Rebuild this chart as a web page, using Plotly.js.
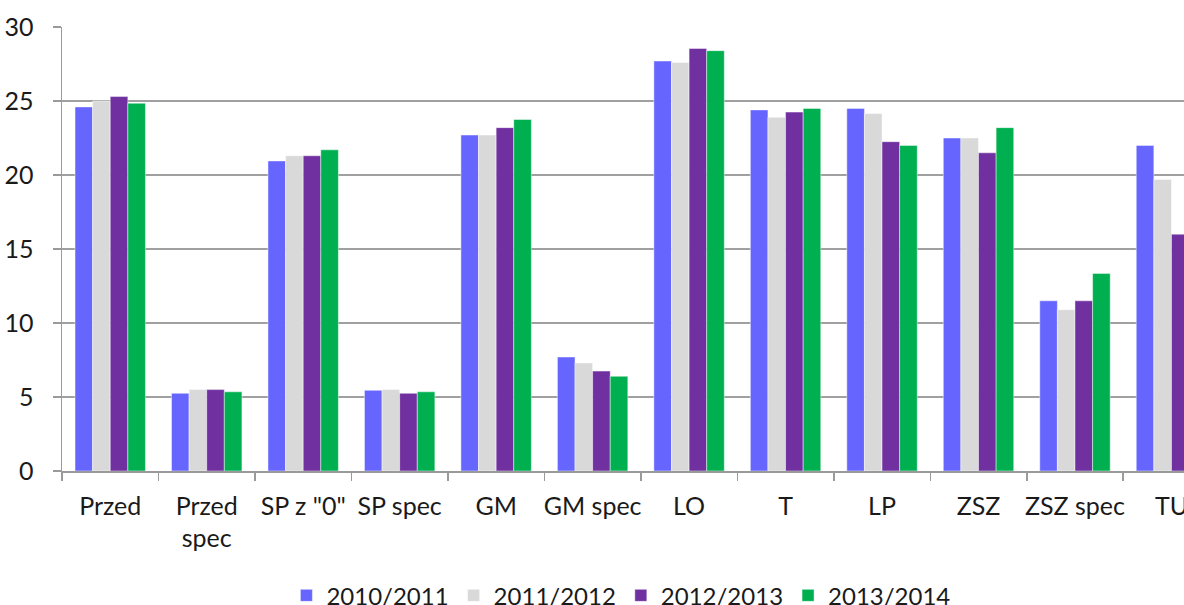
<!DOCTYPE html>
<html>
<head>
<meta charset="utf-8">
<script src="https://cdn.plot.ly/plotly-3.0.1.min.js"></script>
<style>html,body{margin:0;padding:0;background:#fff;}#chart{width:1184px;height:605px;}</style>
</head>
<body>
<div id="chart"></div>
<script>
const categories = ["Przed", "Przed<br>spec", "SP z \"0\"", "SP spec", "GM", "GM spec", "LO", "T", "LP", "ZSZ", "ZSZ spec", "TU"];
const seriesNames = ["2010/2011", "2011/2012", "2012/2013", "2013/2014"];
const y2010_2011 = [24.6, 5.25, 20.95, 5.45, 22.7, 7.7, 27.7, 24.4, 24.5, 22.5, 11.5, 22.0];
const y2011_2012 = [25.0, 5.5, 21.3, 5.5, 22.7, 7.3, 27.6, 23.9, 24.15, 22.5, 10.9, 19.7];
const y2012_2013 = [25.3, 5.5, 21.3, 5.25, 23.2, 6.75, 28.55, 24.25, 22.25, 21.5, 11.5, 16.0];
const y2013_2014 = [24.85, 5.35, 21.7, 5.35, 23.75, 6.4, 28.4, 24.5, 22.0, 23.2, 13.35, 15.0];
const yTicks = [0, 5, 10, 15, 20, 25, 30];
const colors = ["#6666FF", "#D9D9D9", "#7030A0", "#00B050"];

const allSeries = [y2010_2011, y2011_2012, y2012_2013, y2013_2014];
const traces = allSeries.map((vals, i) => ({
  type: "bar",
  name: seriesNames[i],
  x: categories,
  y: vals,
  marker: {color: colors[i], line: {color: "rgba(255,255,255,0.45)", width: 1}},
  hoverinfo: "skip"
}));

const font = {family: "Lato, 'Open Sans', sans-serif", size: 25, color: "#1a1a1a"};
const legendFont = {family: "Lato, 'Open Sans', sans-serif", size: 24, color: "#1a1a1a"};

const layout = {
  width: 1184,
  height: 605,
  margin: {l: 62, r: 0, t: 27, b: 134, autoexpand: false},
  paper_bgcolor: "#ffffff",
  plot_bgcolor: "#ffffff",
  font: font,
  barmode: "group",
  bargap: 0.27,
  bargroupgap: 0,
  showlegend: true,
  legend: {
    orientation: "h",
    x: 0.2,
    xanchor: "left",
    y: -0.281,
    yanchor: "middle",
    font: legendFont,
    traceorder: "normal"
  },
  xaxis: {
    type: "category",
    range: [-0.5, 11.13],
    automargin: false,
    tickangle: 0,
    showline: true,
    linecolor: "#9a9a9a",
    linewidth: 1.5,
    ticks: "outside",
    tickson: "boundaries",
    ticklen: 8,
    tickcolor: "#9a9a9a",
    tickwidth: 1.5,
    ticklabelstandoff: 12,
    showgrid: false,
    tickfont: font,
    fixedrange: true
  },
  yaxis: {
    range: [0, 30],
    automargin: false,
    tickvals: yTicks,
    ticktext: yTicks.map(String),
    showline: true,
    linecolor: "#9a9a9a",
    linewidth: 1.5,
    ticks: "outside",
    ticklen: 8,
    tickcolor: "#9a9a9a",
    tickwidth: 1.5,
    ticklabelstandoff: 14,
    showgrid: true,
    gridcolor: "#a0a0a0",
    gridwidth: 1.5,
    zeroline: false,
    tickfont: font,
    fixedrange: true
  }
};

Plotly.newPlot("chart", traces, layout, {staticPlot: true, displayModeBar: false});
</script>
</body>
</html>
